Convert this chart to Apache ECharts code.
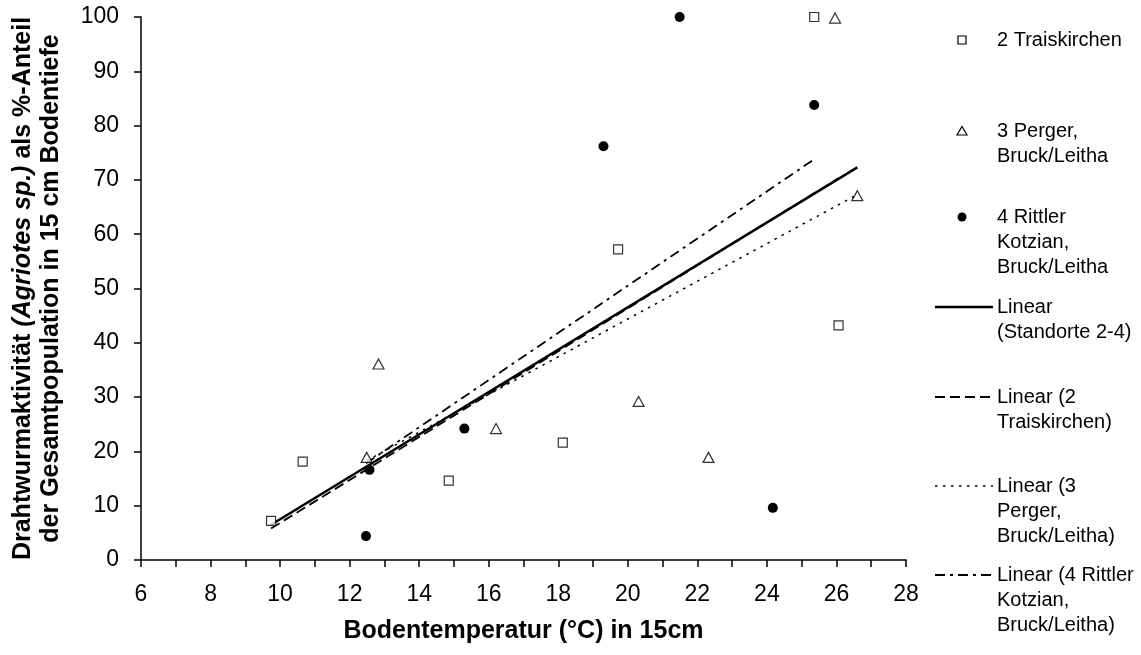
<!DOCTYPE html>
<html>
<head>
<meta charset="utf-8">
<script src="https://cdn.jsdelivr.net/npm/echarts@6/dist/echarts.min.js"></script>
<style>
  html, body { margin: 0; padding: 0; background: #fff; }
  #chart { width: 1141px; height: 655px; }
</style>
</head>
<body>
<div id="chart"></div>
<script>
// 2 Traiskirchen
const traisX = [9.74, 10.65, 14.85, 18.13, 19.72, 25.36, 26.06];
const traisY = [7.2, 18.1, 14.6, 21.6, 57.2, 100, 43.2];
// 3 Perger, Bruck/Leitha
const pergerX = [12.49, 12.83, 16.21, 20.31, 22.32, 25.96, 26.6];
const pergerY = [18.9, 36.1, 24.2, 29.2, 18.9, 99.8, 67.1];
// 4 Rittler Kotzian, Bruck/Leitha
const rittlerX = [12.47, 12.57, 15.3, 19.3, 21.49, 24.17, 25.36];
const rittlerY = [4.4, 16.6, 24.2, 76.2, 100, 9.6, 83.8];

// trend lines, end points
const trendAllX = [9.74, 26.6];
const trendAllY = [6.5, 72.3];
const trendTraisX = [9.74, 26.06];
const trendTraisY = [5.8, 70.3];
const trendPergerX = [12.49, 26.6];
const trendPergerY = [18.3, 67.3];
const trendRittlerX = [12.47, 25.36];
const trendRittlerY = [17.8, 73.8];

const xTicks = [6, 8, 10, 12, 14, 16, 18, 20, 22, 24, 26, 28];

const FONT = 'Liberation Sans, Arial, sans-serif';

function pairs(xs, ys) {
  return xs.map((x, i) => [x, ys[i]]);
}

const chart = echarts.init(document.getElementById('chart'));

// legend drawn by hand: icons + multi-line text, first line aligned to icon
const legendItems = [
  { kind: 'rect', y: 40, text: '2 Traiskirchen' },
  { kind: 'triangle', y: 131, text: '3 Perger,\nBruck/Leitha' },
  { kind: 'circle', y: 217, text: '4 Rittler\nKotzian,\nBruck/Leitha' },
  { kind: 'line', y: 307, dash: null, width: 2.5, text: 'Linear\n(Standorte 2-4)' },
  { kind: 'line', y: 397, dash: [10, 5], width: 1.8, text: 'Linear (2\nTraiskirchen)' },
  { kind: 'line', y: 486, dash: [2.5, 5.5], width: 1.5, text: 'Linear (3\nPerger,\nBruck/Leitha)' },
  { kind: 'line', y: 575, dash: [10, 5, 3, 5], width: 1.8, text: 'Linear (4 Rittler\nKotzian,\nBruck/Leitha)' }
];

const graphics = [];
legendItems.forEach(function (it) {
  if (it.kind === 'rect') {
    graphics.push({ type: 'rect', shape: { x: 958, y: it.y - 4, width: 8, height: 8 },
      style: { fill: '#fff', stroke: '#000', lineWidth: 1.2 } });
  } else if (it.kind === 'triangle') {
    graphics.push({ type: 'polygon', shape: { points: [[962, it.y - 4.5], [967, it.y + 4], [957, it.y + 4]] },
      style: { fill: '#fff', stroke: '#000', lineWidth: 1.2 } });
  } else if (it.kind === 'circle') {
    graphics.push({ type: 'circle', shape: { cx: 962, cy: it.y, r: 4.5 },
      style: { fill: '#000' } });
  } else {
    graphics.push({ type: 'line', shape: { x1: 935, y1: it.y, x2: 993, y2: it.y },
      style: { stroke: '#000', lineWidth: it.width, lineDash: it.dash } });
  }
  graphics.push({
    type: 'text', x: 997, y: it.y - 12.5,
    style: { text: it.text, fontSize: 20, lineHeight: 25, fontFamily: FONT,
      fill: '#000', verticalAlign: 'top', align: 'left' }
  });
});

const option = {
  animation: false,
  backgroundColor: '#fff',
  textStyle: { fontFamily: FONT, color: '#000' },
  grid: { left: 141, right: 235, top: 17, bottom: 95 },
  xAxis: {
    type: 'value',
    min: xTicks[0],
    max: xTicks[xTicks.length - 1],
    interval: 2,
    name: 'Bodentemperatur (°C) in 15cm',
    nameLocation: 'middle',
    nameGap: 59,
    nameTextStyle: { fontSize: 25, fontWeight: 'bold', color: '#000', fontFamily: FONT },
    axisLine: { onZero: false, lineStyle: { color: '#000', width: 1.5 } },
    axisTick: { show: true, inside: false, length: 7, lineStyle: { color: '#000', width: 1.5 } },
    minorTick: { show: true, splitNumber: 2, length: 7, lineStyle: { color: '#000', width: 1.5 } },
    axisLabel: { fontSize: 23, color: '#000', margin: 23, fontFamily: FONT },
    splitLine: { show: false }
  },
  yAxis: {
    type: 'value',
    min: 0,
    max: 100,
    interval: 10,
    name: 'Drahtwurmaktivität {i|(Agriotes sp.)} als %-Anteil\nder Gesamtpopulation in 15 cm Bodentiefe',
    nameLocation: 'middle',
    nameGap: 76,
    nameTextStyle: {
      fontSize: 25, fontWeight: 'bold', color: '#000', lineHeight: 28, fontFamily: FONT,
      rich: { i: { fontSize: 25, fontWeight: 'bold', fontStyle: 'italic', lineHeight: 28, fontFamily: FONT, color: '#000' } }
    },
    axisLine: { show: true, lineStyle: { color: '#000', width: 1.5 } },
    axisTick: { show: true, length: 7, lineStyle: { color: '#000', width: 1.5 } },
    axisLabel: { fontSize: 23, color: '#000', margin: 22, fontFamily: FONT },
    splitLine: { show: false }
  },
  graphic: graphics,
  series: [
    {
      name: 'Linear (2 Traiskirchen)', type: 'line', data: pairs(trendTraisX, trendTraisY),
      showSymbol: false, symbol: 'none', z: 3,
      lineStyle: { color: '#000', width: 1.8, type: [10, 5] }
    },
    {
      name: 'Linear (3 Perger, Bruck/Leitha)', type: 'line', data: pairs(trendPergerX, trendPergerY),
      showSymbol: false, symbol: 'none', z: 3,
      lineStyle: { color: '#000', width: 1.5, type: [2.5, 5.5] }
    },
    {
      name: 'Linear (4 Rittler Kotzian, Bruck/Leitha)', type: 'line', data: pairs(trendRittlerX, trendRittlerY),
      showSymbol: false, symbol: 'none', z: 3,
      lineStyle: { color: '#000', width: 1.8, type: [10, 5, 3, 5] }
    },
    {
      name: 'Linear (Standorte 2-4)', type: 'line', data: pairs(trendAllX, trendAllY),
      showSymbol: false, symbol: 'none', z: 4,
      lineStyle: { color: '#000', width: 2.5, type: 'solid' }
    },
    {
      name: '2 Traiskirchen', type: 'scatter', data: pairs(traisX, traisY),
      symbol: 'rect', symbolSize: 9, z: 5,
      itemStyle: { color: '#fff', borderColor: '#000', borderWidth: 1.2 }
    },
    {
      name: '3 Perger, Bruck/Leitha', type: 'scatter', data: pairs(pergerX, pergerY),
      symbol: 'triangle', symbolSize: [11, 10], z: 5,
      itemStyle: { color: '#fff', borderColor: '#000', borderWidth: 1.2 }
    },
    {
      name: '4 Rittler Kotzian, Bruck/Leitha', type: 'scatter', data: pairs(rittlerX, rittlerY),
      symbol: 'circle', symbolSize: 10, z: 5,
      itemStyle: { color: '#000', opacity: 1 }
    }
  ]
};

chart.setOption(option);
</script>
</body>
</html>
